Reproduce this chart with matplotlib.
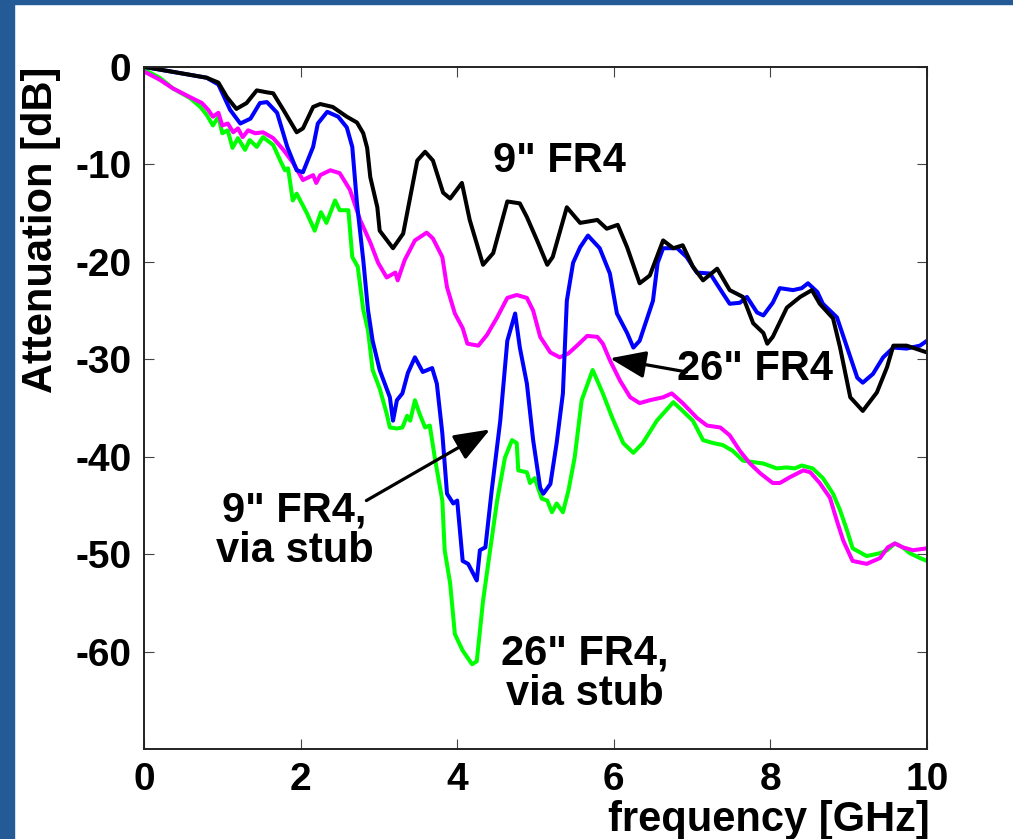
import matplotlib
matplotlib.use("Agg")
import matplotlib.pyplot as plt
from matplotlib.patches import Rectangle

plt.rcParams['font.family'] = ['Liberation Sans', 'DejaVu Sans']

# 9" FR4 (black)
f_9 = [0.01, 0.37, 0.80, 0.95, 1.06, 1.18, 1.31, 1.44, 1.57, 1.65, 1.78, 1.95, 2.03, 2.16, 2.25,
       2.41, 2.59, 2.72, 2.80, 2.85, 2.89, 2.98, 3.01, 3.18, 3.31, 3.49, 3.59, 3.69, 3.82, 3.91,
       4.06, 4.16, 4.33, 4.46, 4.64, 4.80, 4.89, 5.02, 5.15, 5.22, 5.40, 5.57, 5.79, 5.91, 6.05,
       6.17, 6.33, 6.46, 6.63, 6.76, 6.88, 7.01, 7.14, 7.32, 7.48, 7.65, 7.78, 7.91, 7.96, 8.03,
       8.21, 8.38, 8.53, 8.63, 8.80, 8.89, 9.02, 9.18, 9.36, 9.49, 9.57, 9.74, 10.0]
a_9 = [0.0, -0.5, -1.1, -1.6, -3.1, -4.3, -3.7, -2.4, -2.6, -2.7, -4.4, -6.7, -6.3, -4.1, -3.8,
       -4.1, -5.1, -5.7, -6.8, -8.3, -11.3, -14.4, -16.8, -18.6, -17.1, -9.6, -8.7, -9.6, -12.9, -13.5,
       -11.9, -15.7, -20.3, -19.1, -13.8, -14.0, -15.4, -17.8, -20.3, -19.5, -14.4, -16.0, -15.7, -16.6, -16.2,
       -18.5, -22.2, -21.4, -17.8, -18.6, -18.3, -20.5, -21.9, -20.7, -22.9, -23.6, -26.3, -27.3, -28.4, -27.7,
       -24.7, -23.6, -22.9, -24.3, -25.8, -28.8, -33.9, -35.3, -33.4, -30.8, -28.6, -28.6, -29.3]

# 9" FR4, via stub (blue)
f_9s = [0.01, 0.37, 0.80, 0.95, 1.10, 1.23, 1.36, 1.48, 1.57, 1.70, 1.83, 1.95, 2.03, 2.16, 2.22,
        2.34, 2.48, 2.59, 2.66, 2.72, 2.80, 2.86, 2.92, 3.01, 3.14, 3.18, 3.23, 3.30, 3.37, 3.46,
        3.56, 3.68, 3.74, 3.81, 3.87, 3.95, 4.00, 4.07, 4.14, 4.25, 4.29, 4.36, 4.44, 4.55, 4.64,
        4.74, 4.80, 4.89, 4.97, 5.06, 5.10, 5.19, 5.27, 5.35, 5.40, 5.48, 5.57, 5.67, 5.82, 5.95,
        6.04, 6.17, 6.25, 6.33, 6.50, 6.56, 6.63, 6.81, 6.93, 7.06, 7.23, 7.39, 7.48, 7.61, 7.70,
        7.83, 7.91, 8.03, 8.12, 8.29, 8.40, 8.48, 8.60, 8.67, 8.85, 8.98, 9.11, 9.18, 9.31, 9.44,
        9.57, 9.74, 9.91, 10.0]
a_9s = [0.0, -0.5, -1.1, -1.8, -4.4, -5.8, -5.3, -3.7, -3.6, -4.7, -8.2, -10.6, -10.8, -8.2, -5.8,
        -4.6, -5.1, -6.2, -8.2, -14.0, -19.8, -24.9, -28.1, -31.1, -33.9, -36.3, -34.2, -33.5, -31.4, -29.8,
        -31.3, -30.9, -32.5, -37.6, -43.8, -44.8, -44.5, -50.7, -51.0, -52.7, -49.6, -49.3, -43.5, -36.3, -28.1,
        -25.3, -28.8, -32.5, -38.3, -43.2, -43.8, -42.8, -38.6, -33.5, -24.0, -20.1, -18.5, -17.3, -18.6, -21.2,
        -25.3, -27.3, -28.8, -28.1, -24.0, -20.1, -18.6, -18.6, -19.5, -21.1, -21.2, -23.2, -24.3, -24.2, -23.6,
        -25.2, -25.5, -24.2, -22.7, -22.9, -22.7, -22.2, -23.1, -24.3, -25.7, -28.8, -31.9, -32.4, -31.5, -29.8,
        -28.8, -28.9, -28.6, -28.1]

# 26" FR4 (magenta)
f_26 = [0.01, 0.20, 0.37, 0.59, 0.74, 0.82, 0.88, 0.95, 1.00, 1.07, 1.14, 1.20, 1.26, 1.33, 1.42,
        1.52, 1.65, 1.78, 1.90, 2.03, 2.16, 2.20, 2.25, 2.38, 2.50, 2.63, 2.76, 2.89, 2.99, 3.10,
        3.21, 3.24, 3.33, 3.46, 3.61, 3.69, 3.81, 3.87, 3.97, 4.07, 4.13, 4.27, 4.38, 4.51, 4.64,
        4.76, 4.89, 4.97, 5.06, 5.19, 5.31, 5.42, 5.53, 5.66, 5.79, 5.86, 5.95, 6.08, 6.21, 6.33,
        6.46, 6.63, 6.74, 6.88, 7.06, 7.19, 7.36, 7.48, 7.61, 7.74, 7.87, 8.03, 8.12, 8.25, 8.42,
        8.51, 8.63, 8.76, 8.85, 8.93, 9.05, 9.23, 9.40, 9.50, 9.59, 9.69, 9.82, 10.0]
a_26 = [-0.5, -1.3, -2.2, -3.1, -3.7, -4.4, -5.1, -4.7, -6.0, -5.8, -6.7, -6.3, -7.2, -6.5, -6.8,
        -6.7, -7.3, -8.5, -9.8, -11.6, -11.1, -11.9, -11.1, -10.6, -10.9, -12.6, -15.7, -18.0, -20.1, -21.6,
        -21.1, -21.9, -19.8, -17.8, -17.0, -17.6, -19.5, -22.6, -25.3, -26.8, -28.4, -28.6, -27.5, -25.7, -23.7,
        -23.4, -23.7, -25.0, -27.7, -29.3, -29.8, -29.4, -28.6, -27.6, -27.7, -28.4, -30.1, -32.2, -33.9, -34.5,
        -34.2, -33.9, -33.5, -34.5, -36.0, -36.8, -37.0, -37.8, -39.4, -40.7, -41.7, -42.7, -42.7, -42.1, -41.4,
        -41.6, -42.7, -44.2, -46.6, -48.6, -50.7, -51.0, -50.4, -49.3, -48.9, -49.3, -49.6, -49.4]

# 26" FR4, via stub (green)
f_26s = [0.01, 0.20, 0.37, 0.59, 0.72, 0.80, 0.88, 0.95, 1.00, 1.07, 1.13, 1.20, 1.29, 1.35, 1.44,
         1.52, 1.65, 1.74, 1.80, 1.84, 1.90, 1.95, 2.08, 2.18, 2.26, 2.33, 2.44, 2.50, 2.61, 2.66,
         2.73, 2.80, 2.86, 2.92, 3.01, 3.10, 3.14, 3.23, 3.30, 3.36, 3.40, 3.46, 3.52, 3.59, 3.65,
         3.72, 3.81, 3.84, 3.91, 3.97, 4.07, 4.19, 4.25, 4.33, 4.42, 4.51, 4.61, 4.70, 4.76, 4.78,
         4.89, 4.93, 4.99, 5.08, 5.15, 5.21, 5.27, 5.35, 5.42, 5.50, 5.59, 5.73, 5.86, 5.98, 6.12,
         6.25, 6.37, 6.55, 6.76, 6.88, 7.01, 7.14, 7.27, 7.39, 7.52, 7.65, 7.91, 8.08, 8.21, 8.31,
         8.40, 8.54, 8.67, 8.80, 8.89, 8.98, 9.05, 9.23, 9.40, 9.49, 9.59, 9.69, 9.78, 9.91, 10.0]
a_26s = [-0.3, -1.1, -2.2, -3.2, -4.1, -4.9, -6.0, -5.1, -6.8, -6.5, -8.3, -7.3, -8.5, -7.5, -8.2,
         -7.2, -8.0, -9.6, -10.6, -10.4, -13.7, -13.0, -15.0, -16.8, -14.9, -16.0, -13.7, -14.7, -14.7, -19.5,
         -20.5, -24.9, -27.0, -31.1, -33.0, -35.6, -37.0, -37.1, -37.0, -35.8, -36.3, -34.2, -35.6, -37.0, -36.8,
         -40.4, -44.5, -49.6, -53.0, -58.2, -59.9, -61.3, -61.0, -54.8, -49.6, -44.5, -40.1, -38.3, -38.6, -41.4,
         -41.6, -42.7, -42.2, -44.3, -44.5, -45.7, -44.8, -45.7, -43.5, -40.1, -34.2, -31.1, -33.5, -36.0, -38.6,
         -39.6, -38.6, -36.3, -34.4, -35.3, -36.3, -38.3, -38.6, -38.8, -39.4, -40.4, -40.7, -41.2, -41.1, -41.2,
         -40.9, -41.2, -42.2, -43.8, -45.5, -47.6, -49.4, -50.2, -49.9, -49.6, -48.9, -49.3, -49.9, -50.4, -50.7]

x_ticks = [0, 2, 4, 6, 8, 10]
y_ticks = [0, -10, -20, -30, -40, -50, -60]

W, H = 1013, 839
fig = plt.figure(figsize=(W / 100, H / 100), dpi=100)
fig.patch.set_facecolor('white')

# blue slide frame
frame_col = '#245a96'
fig.patches.append(Rectangle((0, 0), 14 / W, 1, transform=fig.transFigure, color=frame_col, zorder=0))
fig.patches.append(Rectangle((0, 1 - 4 / H), 1, 4 / H, transform=fig.transFigure, color=frame_col, zorder=0))

ax = fig.add_axes([144 / W, 1 - 749 / H, (927 - 144) / W, (749 - 67) / H])
lw = 2.9
ax.plot(f_26s, a_26s, color='#00ff00', lw=lw, solid_joinstyle='round')
ax.plot(f_26, a_26, color='#ff00ff', lw=lw, solid_joinstyle='round')
ax.plot(f_9s, a_9s, color='#0000ff', lw=lw, solid_joinstyle='round')
ax.plot(f_9, a_9, color='black', lw=lw, solid_joinstyle='round')

ax.set_xlim(0, 10)
ax.set_ylim(-70, 0)
ax.set_xticks(x_ticks)
ax.set_yticks(y_ticks)
ax.set_xticklabels([str(t) for t in x_ticks])
ax.set_yticklabels([str(t) for t in y_ticks])
ax.tick_params(direction='in', length=7, width=0.8, color='#444444', top=True, right=True,
               labelsize=28)
ax.tick_params(axis='x', pad=9)
ax.tick_params(axis='y', pad=9)
for lab in ax.get_xticklabels() + ax.get_yticklabels():
    lab.set_fontweight('bold')
for s in ax.spines.values():
    s.set_linewidth(1.4)
    s.set_color('#222222')

fs = 30
ax.text(5.31, -9.6, '9" FR4', fontsize=fs, fontweight='bold', ha='center', va='center')
ax.text(6.81, -31.0, '26" FR4', fontsize=fs, fontweight='bold', ha='left', va='center')
ax.text(1.92, -47.6, '9" FR4,\nvia stub', fontsize=fs, fontweight='bold', ha='center', va='center',
        linespacing=1.0)
ax.text(5.63, -62.3, '26" FR4,\nvia stub', fontsize=fs, fontweight='bold', ha='center', va='center',
        linespacing=1.0)

arrow = dict(arrowstyle='-|>,head_length=1.1,head_width=0.42', mutation_scale=20, lw=2.3,
             color='black', shrinkA=0, shrinkB=0)
ax.annotate('', xy=(5.95, -29.9), xytext=(6.93, -31.3), arrowprops=arrow)
ax.annotate('', xy=(4.42, -37.2), xytext=(2.84, -44.5), arrowprops=arrow)

fig.text(930 / W, 1 - 831 / H, 'frequency [GHz]', fontsize=fs, fontweight='bold',
         ha='right', va='baseline')
fig.text(41 / W, 1 - 230 / H, 'Attenuation [dB]', fontsize=fs, fontweight='bold',
         ha='center', va='center', rotation=90)

fig.savefig('out.png', dpi=100)
